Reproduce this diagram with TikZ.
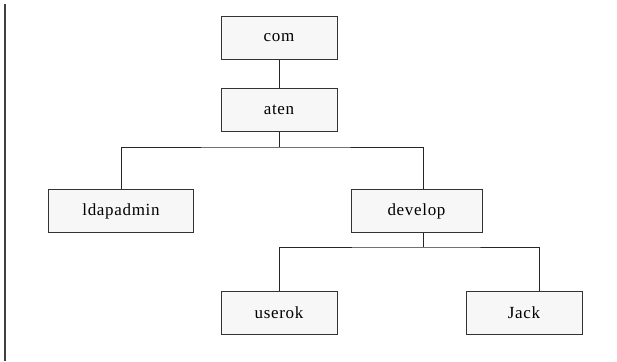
\documentclass[tikz,border=0pt]{standalone}
\usepackage{fontspec}
\setmainfont[LetterSpace=4.0]{Liberation Serif}
\tikzset{
  box/.style={draw=black!80, fill=black!3, line width=1pt, minimum width=116pt, minimum height=43pt, inner sep=0pt, font=\fontsize{17}{20}\selectfont},
  link/.style={draw=black!85, line width=1pt}
}
\begin{document}
\begin{tikzpicture}[x=1pt,y=-1pt]
        \useasboundingbox (0,0) rectangle (617,361);
        \draw[black!75, line width=2pt] (5,4) -- (5,361);

        \node[box] (com) at (279,38) {com};
        \node[box] (aten) at (279,110) {aten};
        \node[box, minimum width=145pt] (ldapadmin) at (121,211) {ldapadmin};
        \node[box, minimum width=131pt] (develop) at (416.5,211) {develop};
        \node[box] (userok) at (279,312.5) {userok};
        \node[box] (Jack) at (524,312.5) {Jack};

        \coordinate (bus1) at (279,147);
        \coordinate (bus2) at (423,247);

        \draw[link] (com) -- (aten);
        \draw[link] (aten) -- (bus1);
        \draw[link] (ldapadmin.north) |- (bus1) -| ([xshift=6.5pt]develop.north);
        \draw[link] ([xshift=6.5pt]develop.south) -- (bus2);
        \draw[link] (userok.north) |- (bus2) -| ([xshift=15pt]Jack.north);
      \end{tikzpicture}
\end{document}
